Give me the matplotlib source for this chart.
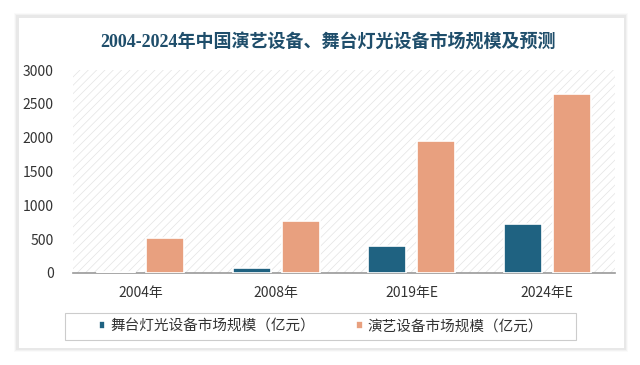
import matplotlib
matplotlib.use("Agg")
import matplotlib.pyplot as plt
from matplotlib.patches import Rectangle
import numpy as np

plt.rcParams['font.family'] = ['Noto Sans CJK SC', 'DejaVu Sans']
plt.rcParams['hatch.linewidth'] = 0.5

categories = ["2004年", "2008年", "2019年E", "2024年E"]
lighting = [20, 70, 400, 720]
performance = [510, 770, 1950, 2640]
series_names = ["舞台灯光设备市场规模（亿元）", "演艺设备市场规模（亿元）"]
yticks = [0, 500, 1000, 1500, 2000, 2500, 3000]

TEAL = "#1F6281"
ORANGE = "#E8A07F"

fig = plt.figure(figsize=(6.4, 3.65), dpi=100)
fig.patch.set_facecolor("white")


def px(x0, y0, w, h):
    # pixel box (top-left origin) -> figure fraction
    return (x0 / 640, 1 - (y0 + h) / 365), w / 640, h / 365


# card with a soft shadow
for i, a in enumerate([0.02, 0.03, 0.04]):
    d = 4 - i
    xy, w_, h_ = px(18 - d, 17 - d, 606 + 2 * d, 331 + 2 * d)
    fig.patches.append(Rectangle(xy, w_, h_, transform=fig.transFigure,
                                 facecolor="black", alpha=a, edgecolor="none",
                                 zorder=-2))
xy, w_, h_ = px(18, 17, 606, 331)
fig.patches.append(Rectangle(xy, w_, h_, transform=fig.transFigure,
                             facecolor="white", edgecolor="#E6E6E6", lw=0.6,
                             zorder=-1))

fig.text(0.512, 1 - 43 / 365,
         "2004-2024年中国演艺设备、舞台灯光设备市场规模及预测",
         ha="center", va="center", fontsize=13, color="#1F4E6B",
         fontweight="bold", family=["Liberation Serif", "Noto Sans CJK SC"])

ax = fig.add_axes([73 / 640, 1 - 273 / 365, 542 / 640, 203 / 365])
ax.set_zorder(2)
ax.set_facecolor("white")
ax.patch.set_hatch("////")
ax.patch.set_edgecolor("#E4E4E4")
ax.patch.set_linewidth(0)

x = np.arange(len(categories))
w = 0.28
gap = 0.08
ax.bar(x - w / 2 - gap / 2, lighting, w, color=TEAL, edgecolor="white", lw=1.2,
       zorder=3, label=series_names[0])
ax.bar(x + w / 2 + gap / 2, performance, w, color=ORANGE, edgecolor="white", lw=1.2,
       zorder=3, label=series_names[1])

ax.set_xlim(-0.5, len(categories) - 0.5)
ax.set_ylim(0, 3000)
ax.set_yticks(yticks)
ax.set_xticks(x)
ax.set_xticklabels(categories)
ax.tick_params(axis="both", length=0, labelsize=10, colors="#333333")
ax.tick_params(axis="y", pad=14)
ax.tick_params(axis="x", pad=9)
for s in ["top", "right", "left"]:
    ax.spines[s].set_visible(False)
ax.spines["bottom"].set_color("#999999")
ax.spines["bottom"].set_linewidth(1.2)

# legend box drawn separately, entries placed inside it
xy, w_, h_ = px(65, 313, 511, 27)
fig.patches.append(Rectangle(xy, w_, h_, transform=fig.transFigure,
                             facecolor="white", edgecolor="#CCCCCC", lw=0.8,
                             zorder=-0.5))
leg = fig.legend(loc="center", bbox_to_anchor=(321 / 640, 1 - 326.5 / 365),
                 ncol=2, frameon=False, fontsize=10.5,
                 handlelength=0.45, handleheight=0.45, handletextpad=0.35,
                 columnspacing=2.8, borderpad=0.2)
leg.set_zorder(3)
for t in leg.get_texts():
    t.set_color("#333333")

fig.savefig("out.png", dpi=100, facecolor=fig.get_facecolor())
